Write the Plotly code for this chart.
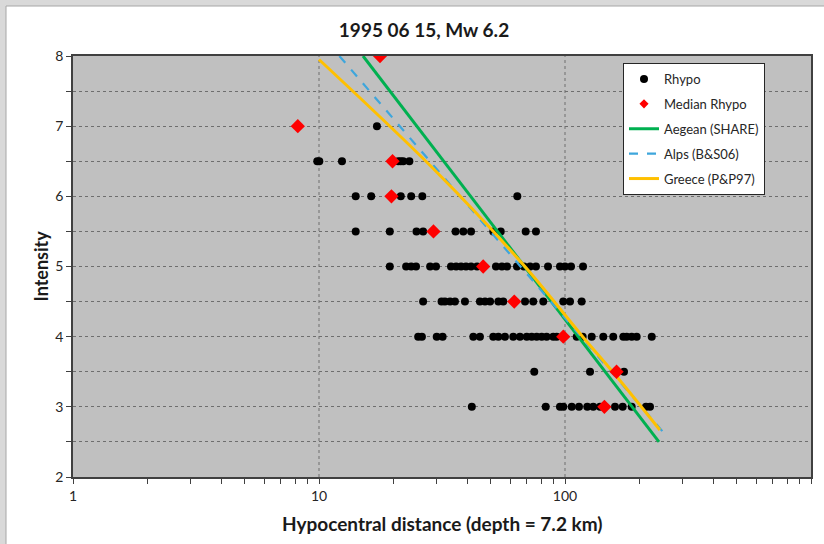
import plotly.graph_objects as go

# ---------------- data ----------------
title_text = "1995 06 15, Mw 6.2"

rhypo_R = [17.2,
           9.84, 10.03, 12.4, 21.0, 21.5, 22.0, 23.3,
           14.1, 16.3, 21.5, 23.7, 26.3, 64.0,
           14.1, 19.4, 24.9, 26.5, 35.9, 38.6, 41.5, 51.1, 54.8, 69.2, 76.2,
           19.4, 22.6, 23.7, 24.8, 28.3, 29.9, 34.4, 36.1, 37.8, 39.6, 41.5, 43.9, 52.4, 55.4,
           58.1, 63.8, 68.1, 72.1, 76.2, 85.3, 95.4, 100, 105.8, 118.4,
           26.5, 31.5, 32.5, 34.1, 35.7, 39.2, 45.1, 47.3, 49.6, 53.6, 56.1, 68.8, 74.3, 81.6,
           98.4, 104.8, 116.9,
           25.3, 26.2, 30.1, 31.8, 42.4, 45.1, 51.1, 53.6, 57.0, 61.6, 65.6, 69.9, 73.2, 76.7,
           80.4, 84.2, 89.6, 92.5, 111.6, 118.0, 128.4, 143.1, 157.1, 172.6, 178.1, 186.7,
           195.6, 225.2,
           75.0, 126.4, 173.7,
           41.8, 83.5, 95.4, 98.4, 106.5, 114.0, 123.2, 130.3, 138.8, 159.7, 171.6, 186.7,
           213.4, 221.6]
rhypo_I = ([7.0]
           + [6.5] * 7
           + [6.0] * 6
           + [5.5] * 11
           + [5.0] * 24
           + [4.5] * 17
           + [4.0] * 28
           + [3.5] * 3
           + [3.0] * 14)

median_R = [17.7, 8.2, 19.9, 19.7, 29.2, 46.5, 62.2, 98.4, 162.0, 144.6]
median_I = [8.0, 7.0, 6.5, 6.0, 5.5, 5.0, 4.5, 4.0, 3.5, 3.0]

aegean_R = [15.1, 241.0]
aegean_I = [8.0, 2.5]

alps_R = [12.1, 252.0]
alps_I = [8.0, 2.63]

greece_R = [10.0, 30.2, 68.7, 118.0, 165.0, 243.0]
greece_I = [7.95, 6.34, 5.0, 4.0, 3.4, 2.67]

x_tickvals = [1, 2, 3, 4, 5, 6, 7, 8, 9,
              10, 20, 30, 40, 50, 60, 70, 80, 90,
              100, 200, 300, 400, 500, 600, 700, 800, 900, 1000]
x_ticktext = ["1"] + [""] * 8 + ["10"] + [""] * 8 + ["100"] + [""] * 8 + ["1000"]
x_gridvals = [10, 100]

# ---------------- figure ----------------
FONT = "Lato, 'Open Sans', sans-serif"
L, R, T, B = 73, 13, 56, 67
PW, PH = 824 - L - R, 544 - T - B


def px_x(p):
    return (p - L) / PW


def px_y(p):
    return (544 - B - p) / PH


fig = go.Figure()

fig.add_trace(go.Scatter(
    x=rhypo_R, y=rhypo_I, mode="markers", name="Rhypo",
    marker=dict(symbol="circle", size=8, color="black"),
    legendrank=1, legendgroup="g1"))
fig.add_trace(go.Scatter(
    x=aegean_R, y=aegean_I, mode="lines", name="Aegean (SHARE)",
    line=dict(color="#00b050", width=3), legendrank=3, legendgroup="g3"))
fig.add_trace(go.Scatter(
    x=alps_R, y=alps_I, mode="lines", name="Alps (B&S06)",
    line=dict(color="#3ea6dc", width=2.2, dash="dash"), legendrank=4, legendgroup="g4"))
fig.add_trace(go.Scatter(
    x=greece_R, y=greece_I, mode="lines", name="Greece (P&P97)",
    line=dict(color="#ffc000", width=3, shape="spline"), legendrank=5, legendgroup="g5"))
fig.add_trace(go.Scatter(
    x=median_R, y=median_I, mode="markers", name="Median Rhypo",
    marker=dict(symbol="diamond", size=11, color="#ff0000"),
    showlegend=False, legendgroup="g2"))
# legend entry with a smaller diamond, as in the original
fig.add_trace(go.Scatter(
    x=[None], y=[None], mode="markers", name="Median Rhypo",
    marker=dict(symbol="diamond", size=7, color="#ff0000"),
    legendrank=2, legendgroup="g2b"))

# vertical dotted grid at decades
for gv in x_gridvals:
    fig.add_shape(type="line", xref="x", yref="paper", x0=gv, x1=gv, y0=0, y1=1,
                  line=dict(color="#6e6e6e", width=1, dash="dot"), layer="below")

# outer slide frame (grey strips on left and top)
fig.add_shape(type="rect", xref="paper", yref="paper",
              x0=-0.2, x1=px_x(6), y0=-0.3, y1=1.3,
              fillcolor="#d9d9d9", line=dict(width=0), layer="below")
fig.add_shape(type="rect", xref="paper", yref="paper",
              x0=-0.2, x1=1.2, y0=px_y(6), y1=1.3,
              fillcolor="#d9d9d9", line=dict(width=0), layer="below")
fig.add_shape(type="line", xref="paper", yref="paper",
              x0=px_x(6), x1=px_x(6), y0=-0.3, y1=px_y(6),
              line=dict(color="#a6a6a6", width=1), layer="below")
fig.add_shape(type="line", xref="paper", yref="paper",
              x0=px_x(6), x1=1.2, y0=px_y(6), y1=px_y(6),
              line=dict(color="#a6a6a6", width=1), layer="below")

fig.update_layout(
    width=824, height=544,
    margin=dict(l=L, r=R, t=T, b=B),
    paper_bgcolor="white",
    plot_bgcolor="#c0c0c0",
    font=dict(family=FONT, size=14, color="#262626"),
    title=dict(text="<b>" + title_text + "</b>", x=424 / 824, xref="container",
               y=1 - 30 / 544, yref="container", xanchor="center", yanchor="middle",
               font=dict(family=FONT, size=19, color="#1a1a1a")),
    showlegend=True,
    legend=dict(x=px_x(623), y=px_y(63), xanchor="left", yanchor="top",
                bgcolor="white", bordercolor="#262626", borderwidth=1,
                font=dict(family=FONT, size=13, color="#262626"),
                traceorder="grouped", tracegroupgap=5),
    xaxis=dict(type="log", range=[0, 3],
               tickvals=x_tickvals, ticktext=x_ticktext,
               ticks="outside", ticklen=5, tickcolor="#404040", tickwidth=1,
               showgrid=False, zeroline=False,
               showline=True, linecolor="#404040", linewidth=1.5, mirror=True,
               tickfont=dict(family=FONT, size=14, color="#262626")),
    yaxis=dict(range=[2, 8], dtick=1, tick0=2,
               ticks="outside", ticklen=5, tickcolor="#404040", tickwidth=1,
               showgrid=True, gridcolor="#6e6e6e", gridwidth=1, griddash="dot",
               minor=dict(dtick=0.5, tick0=2, ticks="outside", ticklen=5,
                          tickcolor="#404040", showgrid=True, gridcolor="#6e6e6e",
                          griddash="dot", gridwidth=1),
               zeroline=False,
               showline=True, linecolor="#404040", linewidth=1.5, mirror=True,
               tickfont=dict(family=FONT, size=14, color="#262626")),
    annotations=[
        dict(text="<b>Hypocentral distance (depth = 7.2 km)</b>", xref="paper", yref="paper",
             x=0.5, y=px_y(523), xanchor="center", yanchor="middle",
             showarrow=False, font=dict(family=FONT, size=19, color="#1a1a1a")),
        dict(text="<b>Intensity</b>", xref="paper", yref="paper",
             x=px_x(40), y=0.5, xanchor="center", yanchor="middle",
             textangle=-90, showarrow=False, font=dict(family=FONT, size=18, color="#1a1a1a")),
    ],
)

fig.write_html("out.html", config={"displayModeBar": False},
               post_script="document.body.style.margin='0';document.body.style.overflow='hidden';")
